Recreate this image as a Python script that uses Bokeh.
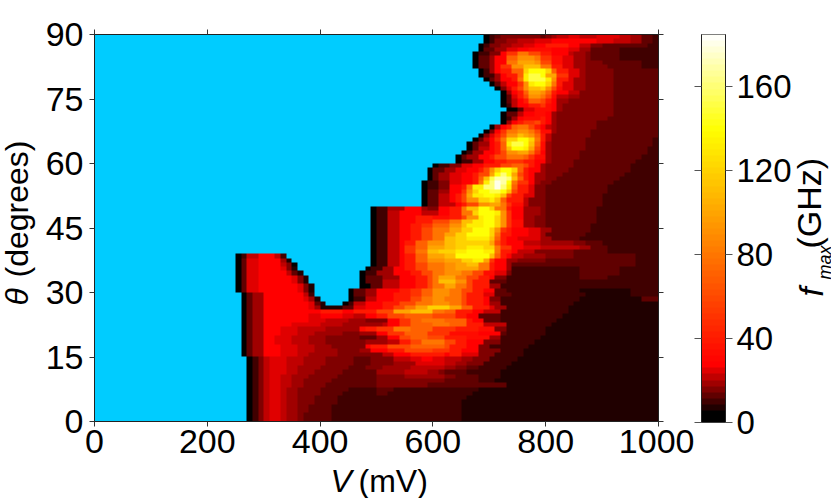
import numpy as np
from bokeh.embed import file_html
from bokeh.layouts import column, row
from bokeh.models import (Label, LinearAxis, LinearColorMapper, Range1d,
                          FixedTicker)
from bokeh.plotting import figure
from bokeh.resources import INLINE

# Reading of the map: one string per degree row, top row (89-90 deg) first.
# Token = level letter + column (10 mV units) where that level stops. "." = no oscillation.
ROWS = [
".69 070 271 372 479 380 481 582 684 786 689 792 793 695 597 399 2100",
".69 070 271 473 575 678 781 886 888 889 792 695 597 399 2100",
".68 069 270 472 574 676 778 880 a84 886 688 490 393 398 2100",
".68 069 371 573 775 877 981 884 786 588 393 2100",
".67 068 270 472 873 b75 e77 c79 a81 884 685 587 488 393 2100",
".67 068 370 571 873 d75 f78 e79 b81 983 785 587 488 393 2100",
".67 068 370 571 873 e75 g78 f79 c81 983 785 587 490 397 2100",
".67 068 370 571 872 b74 f76 h79 e81 a83 785 587 491 397 2100",
".68 069 270 571 872 a74 d76 i77 k80 i81 d82 a84 786 587 492 3100",
".68 069 271 572 873 a75 d76 j77 l79 k80 g82 b84 786 587 492 3100",
".69 070 371 572 874 a75 e76 j77 l80 j81 f82 a84 785 587 492 3100",
".70 071 372 673 875 b76 f77 j78 k80 i81 e82 a83 785 587 492 3100",
".71 072 473 774 a75 c76 f77 h79 i80 f81 c82 983 785 587 492 3100",
".72 073 574 875 a76 d77 g79 f80 d81 a82 884 686 492 3100",
".72 073 374 775 a76 c77 f79 e80 c81 982 684 586 492 3100",
".72 073 374 675 876 a77 d79 c80 a81 882 584 492 3100",
".72 073 274 675 877 a79 b80 981 882 583 492 3100",
".73 075 376 778 981 882 583 492 3100",
".72 073 375 676 878 980 881 582 492 3100",
".72 073 274 575 876 979 a80 881 582 491 3100",
".72 073 574 875 a76 b78 c79 a80 881 582 489 3100",
".70 071 572 873 a74 d75 e77 c78 a79 880 681 582 489 3100",
".69 070 471 872 b73 e75 f77 e78 c79 981 582 488 3100",
".68 069 470 771 a72 c73 f75 h76 g77 f78 d79 a80 681 488 3100",
".67 068 369 670 871 b72 e73 i75 k77 i78 e79 a80 681 487 399 2100",
".66 067 368 570 871 a72 d73 j74 l76 k77 h78 d79 980 581 487 399 2100",
".66 067 368 670 871 a72 d73 h74 k76 j77 g78 c79 980 581 487 398 2100",
".65 066 267 569 871 a72 c73 f75 g77 e78 b79 880 581 486 398 2100",
".64 065 366 568 870 a71 c73 e76 d77 b78 980 581 486 397 2100",
".64 065 267 569 871 a73 b76 a78 880 581 485 396 2100",
".60 061 263 465 767 869 a72 c74 d76 c77 a78 879 580 485 395 2100",
".59 060 362 564 766 868 a69 c70 f71 i72 k74 i75 d76 a77 879 580 484 395 2100",
".59 060 361 563 765 867 a68 c70 g71 k72 m73 k74 g75 c76 a77 878 580 483 394 2100",
".59 060 361 563 765 867 a68 d69 h70 l71 n73 m74 h75 d76 a77 878 580 482 393 2100",
".58 059 261 463 765 867 a68 e69 j70 m71 o72 n73 k74 e75 b77 878 579 481 392 2100",
".58 059 261 463 865 a66 e67 j69 m71 o72 m73 j74 d75 a77 778 480 391 2100",
".58 059 361 563 865 b66 f67 i68 k70 l72 k73 h74 c75 a77 778 480 391 2100",
".58 059 361 663 864 a65 c66 g67 j69 k71 j72 h73 c74 a76 778 480 390 2100",
".58 059 361 663 864 a65 c66 f68 i70 j71 h72 d73 a76 677 480 390 2100",
".58 059 361 664 865 a66 c68 f70 g72 e73 b74 976 677 480 390 2100",
".49 050 252 555 858 559 461 863 a65 e66 h68 k70 i71 e73 a74 876 579 480 389 2100",
".49 050 252 654 858 661 863 a65 e67 i68 k71 j72 f73 b74 876 579 480 389 2100",
".49 050 252 654 857 a60 963 a65 c66 f68 j69 k71 i72 f73 b74 876 578 480 389 2100",
".49 050 252 654 857 a60 c63 e65 h67 j69 k71 i72 f73 b74 976 578 480 389 2100",
".49 050 252 654 856 a58 b60 d63 f65 h66 j69 k71 i72 f73 b74 976 578 480 388 2100",
".49 050 252 654 856 a58 c60 e63 g65 i67 k70 i71 f72 b73 a74 877 779 581 388 2100",
".49 050 252 654 856 a58 c60 e62 g64 i66 k70 i71 e72 a74 877 779 580 387 2100",
".49 050 252 654 856 a58 c60 e62 h64 i66 j70 h71 d72 a73 875 779 581 386 2100",
".49 050 252 654 855 a57 d59 f62 h64 i66 i70 g71 c72 a73 876 679 585 487 390 2100",
".49 050 252 654 855 b57 d59 g62 h64 i66 j69 i71 e72 b74 876 779 686 588 391 2100",
".49 050 252 654 855 b57 e59 h61 i64 j66 k69 j71 e72 a74 875 678 485 391 2100",
".25 026 227 629 832 633 234 .49 050 252 654 855 a57 d59 g62 h64 k66 k70 h71 d72 a73 874 676 580 485 396 2100",
".25 026 327 729 833 534 135 .49 050 252 654 855 a57 d59 f62 g65 i67 j69 g70 b71 873 575 480 385 396 2100",
".25 026 327 729 833 634 435 036 .49 050 252 654 855 a57 c59 e62 f64 g66 h68 e70 a71 873 574 376 385 396 2100",
".25 026 327 729 833 734 435 136 .48 049 251 553 855 a57 c59 e62 f64 g66 g68 e70 a71 873 574 286 393 2100",
".25 026 327 729 834 635 336 137 .47 048 250 553 856 a58 c60 e62 f65 e67 c69 971 773 474 286 393 2100",
".25 026 327 729 835 736 437 138 .47 048 351 554 857 a59 c60 e61 g64 e66 c68 a70 871 473 286 391 2100",
".25 026 327 729 835 736 437 138 .47 048 351 654 857 a59 c60 e61 h64 f66 c67 a70 373 286 2100",
".25 026 327 729 836 737 438 139 .47 049 351 654 857 a59 c60 e62 g64 e66 c67 a70 572 286 2100",
".25 026 327 729 836 737 438 139 .45 046 348 550 854 a56 b58 d60 f63 e65 c67 a69 871 373 286 195 2100",
".26 027 328 530 837 638 239 .45 046 348 550 853 a56 b58 d60 f63 e65 c66 a69 771 374 287 195 2100",
".26 027 328 530 837 738 539 140 .45 046 248 650 853 a56 c58 e60 f62 e65 c66 a69 870 472 286 197 3100",
".26 027 328 530 838 739 340 141 .44 045 246 648 851 a54 c57 e60 f63 e65 c66 a69 870 572 285 1100",
".26 027 328 530 838 739 540 144 346 748 851 a53 c55 e57 g59 i63 g65 d67 a70 771 573 284 1100",
".26 027 328 530 840 a44 846 a50 c53 g56 h60 e62 d64 a67 869 672 284 1100",
".26 027 328 530 838 740 844 746 648 850 a52 c55 d60 c64 a66 868 372 283 1100",
".26 027 328 530 838 741 645 548 452 854 b56 d58 e62 d66 a67 869 372 282 1100",
".26 027 328 530 835 740 644 548 551 652 854 b56 d60 e63 d66 a69 673 281 1100",
".26 027 328 530 833 736 641 545 547 948 a50 b53 e56 d60 b64 a68 971 473 280 1100",
".26 027 328 530 833 736 639 542 544 447 550 852 b55 d59 b63 968 872 373 280 1100",
".26 027 328 530 832 735 638 541 444 447 350 552 854 c56 d59 c62 a66 970 572 279 1100",
".26 027 328 530 832 735 638 541 443 448 552 654 a56 c58 e62 c64 a66 869 472 278 1100",
".26 027 328 530 833 736 639 542 444 448 849 a52 c56 d62 c63 a66 868 470 277 1100",
".26 027 328 530 833 736 639 543 445 447 549 852 a55 c60 b63 a65 868 472 276 1100",
".26 027 328 530 833 736 638 543 446 448 451 653 856 a62 863 a65 768 471 276 1100",
".27 028 229 430 631 734 637 541 446 349 453 656 758 860 762 665 567 470 275 1100",
".27 028 229 430 631 734 637 541 446 349 453 557 760 762 664 566 469 274 1100",
".27 028 229 430 631 734 636 540 445 348 451 556 660 662 564 466 368 273 1100",
".27 028 229 430 631 734 636 539 444 348 350 555 659 561 462 366 272 1100",
".27 028 229 430 631 733 635 538 443 347 350 455 562 464 368 272 1100",
".27 028 229 430 631 733 635 537 442 346 350 457 462 368 271 1100",
".27 028 229 430 631 733 635 537 441 345 350 456 459 373 1100",
".27 028 229 430 631 733 634 536 440 345 250 353 268 1100",
".27 028 229 430 631 733 634 536 440 344 250 352 267 1100",
".27 028 229 430 631 733 634 536 439 343 250 266 1100",
".27 028 229 430 631 733 634 536 439 343 250 265 1100",
".27 028 229 430 631 733 634 536 438 342 250 265 1100",
".27 028 229 430 631 733 634 536 438 342 250 265 1100",
".27 028 229 430 631 733 634 536 437 342 250 265 1100",
".27 028 229 430 631 733 634 536 437 342 250 265 1100",
]

# GHz meant by each level letter
LEVEL_GHZ = {".": np.nan, "0": 1, "1": 6.5, "2": 9.5, "3": 12.5, "4": 15.5, "5": 18.5,
             "6": 21.5, "7": 24.5, "8": 27, "9": 32, "a": 40, "b": 50, "c": 60, "d": 70,
             "e": 80, "f": 90, "g": 100, "h": 110, "i": 120, "j": 130, "k": 140,
             "l": 150, "m": 160, "n": 170, "o": 180}

X_TICKS = [0, 200, 400, 600, 800, 1000]
Y_TICKS = [0, 15, 30, 45, 60, 75, 90]
CB_TICKS = [0, 40, 80, 120, 160]
F_MAX = 184.5
FONT = "Liberation Sans"
FS = "34px"
LS = "32px"
UP = np.pi / 2


def decode(line):
    out = []
    for tok in line.split():
        out += [LEVEL_GHZ[tok[0]]] * (int(tok[1:]) - len(out))
    return out


fmax = np.array([decode(r) for r in ROWS[::-1]], dtype=float)

# 64-step colour scale: black to red, red to yellow, yellow to white
palette = []
for k in range(64):
    v = (k + 0.5) * F_MAX / 64
    if v < 5.75:
        r, g, b = 0, 0, 0
    elif v < 26:
        r, g, b = min(255, 32 * (int(v / 2.88) - 1)), 0, 0
    elif v < 139:
        r, g, b = 255, int(255 * (v - 28) / 111), 0
    else:
        r, g, b = 255, 255, int(255 * (v - 139) / 45)
    palette.append("#%02x%02x%02x" % (r, max(g, 0), b))
mapper = LinearColorMapper(palette=palette, low=0, high=F_MAX, nan_color="#00CCFF")


def style(ax, ticks, labels=True):
    ax.ticker = FixedTicker(ticks=ticks)
    ax.major_tick_in = 0
    ax.major_tick_out = 5
    ax.minor_tick_in = 0
    ax.minor_tick_out = 0
    ax.major_tick_line_color = "#333333"
    ax.axis_line_color = "#222222"
    ax.major_label_text_font = FONT
    ax.major_label_text_font_size = FS
    ax.major_label_text_color = "black"
    if not labels:
        ax.major_label_text_font_size = "0px"
        ax.major_label_text_alpha = 0
        ax.major_label_standoff = 0


def label(fig, text, sx, sy, size=LS, italic=False, angle=0.0):
    fig.add_layout(Label(x=sx, y=sy, x_units="screen", y_units="screen", text=text,
                         text_font=FONT, text_font_size=size, text_color="black",
                         text_font_style="italic" if italic else "normal",
                         angle=angle, text_baseline="alphabetic", text_align="left"))


def strip(w, h):
    s = figure(width=w, height=h, x_range=Range1d(0, 1), y_range=Range1d(0, 1),
               output_backend="svg", toolbar_location=None, frame_align=False,
               min_border_left=0, min_border_right=0, min_border_top=0, min_border_bottom=0)
    s.axis.visible = False
    s.grid.visible = False
    s.outline_line_color = None
    return s


TOP_H = 464

p = figure(width=654, height=TOP_H, x_range=Range1d(0, 1000), y_range=Range1d(0, 90),
           output_backend="svg", toolbar_location=None,
           min_border_left=54, min_border_right=36, min_border_top=34, min_border_bottom=43)
p.frame_width = 564
p.frame_height = 387
p.grid.visible = False
p.outline_line_color = "#222222"
p.image(image=[fmax], x=0, y=0, dw=1000, dh=90, color_mapper=mapper)
style(p.xaxis[0], X_TICKS)
style(p.yaxis[0], Y_TICKS)
p.xaxis[0].major_label_standoff = 3
p.yaxis[0].major_label_standoff = 6
top = LinearAxis()
style(top, X_TICKS, labels=False)
p.add_layout(top, "above")
right = LinearAxis()
style(right, Y_TICKS, labels=False)
p.add_layout(right, "right")

# Colour bar
cb_values = np.linspace(0, F_MAX, 256).reshape(-1, 1)
c = figure(width=97, height=TOP_H, x_range=Range1d(0, 1), y_range=Range1d(0, F_MAX),
           output_backend="svg", toolbar_location=None,
           min_border_left=7, min_border_right=66, min_border_top=33, min_border_bottom=43)
c.frame_width = 24
c.frame_height = 388
c.grid.visible = False
c.outline_line_color = "#555555"
c.image(image=[cb_values], x=0, y=0, dw=1, dh=F_MAX, color_mapper=mapper)
c.xaxis.visible = False
c.yaxis.visible = False
cb_right = LinearAxis()
style(cb_right, CB_TICKS)
cb_right.major_label_text_font_size = "33px"
cb_right.major_tick_out = 7
cb_right.major_tick_line_color = "#555555"
cb_right.major_label_standoff = 4
cb_right.major_label_text_align = "left"
c.add_layout(cb_right, "right")
cb_left = LinearAxis()
style(cb_left, CB_TICKS, labels=False)
cb_left.major_tick_out = 7
cb_left.major_tick_line_color = "#555555"
c.add_layout(cb_left, "left")

# Axis titles, in strips of their own around the plots
y_strip = strip(40, TOP_H)
label(y_strip, "θ", 16, TOP_H - 305, italic=True, angle=UP)
label(y_strip, "(degrees)", 16, TOP_H - 277, angle=UP)

r_strip = strip(40, TOP_H)
label(r_strip, "f", 17, TOP_H - 296, size="33px", italic=True, angle=UP)
label(r_strip, "max", 30, TOP_H - 279, size="18px", italic=True, angle=UP)
label(r_strip, "(GHz)", 14, TOP_H - 248, size="34px", angle=UP)

x_strip = strip(831, 34)
label(x_strip, "V", 330, 18, italic=True)
label(x_strip, "(mV)", 358, 18)

layout = column(row(y_strip, p, c, r_strip, spacing=0), x_strip, spacing=0)
open("out.html", "w").write(file_html(layout, INLINE))
